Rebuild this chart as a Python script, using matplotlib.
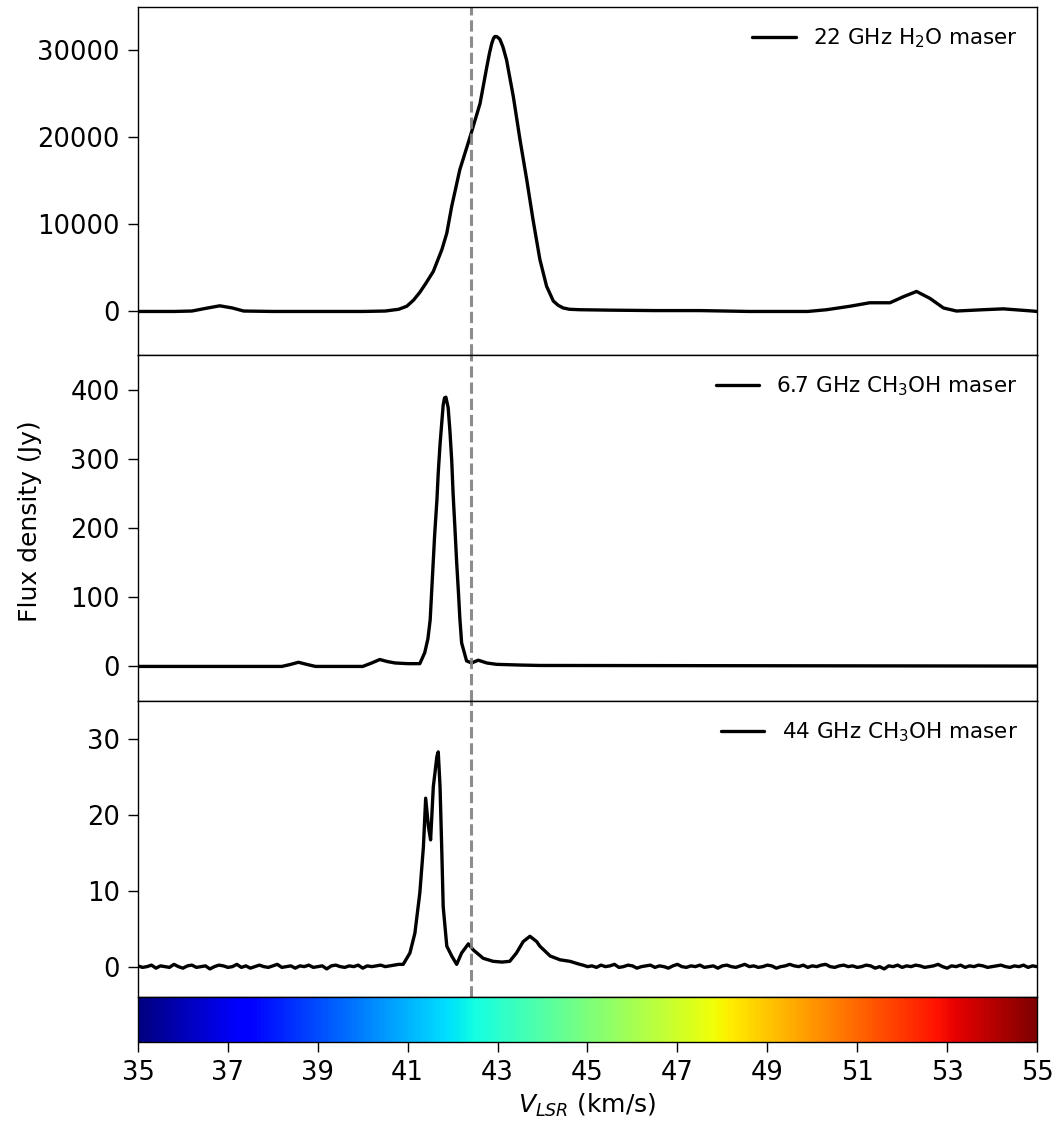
import numpy as np
import matplotlib
matplotlib.use("Agg")
import matplotlib.pyplot as plt
from matplotlib.colors import Normalize
from matplotlib.cm import ScalarMappable

# 22 GHz H2O maser (Jy)
v_h2o = [35.0, 35.8, 36.2, 36.5, 36.82, 37.1, 37.35, 38.0, 39.0, 40.0, 40.5, 40.8,
         40.98, 41.13, 41.27, 41.4, 41.57, 41.76, 41.87, 41.98, 42.16, 42.39, 42.61,
         42.76, 42.82, 42.87, 42.91, 42.94, 42.98, 43.05, 43.12, 43.2, 43.35, 43.5,
         43.65, 43.79, 43.94, 44.09, 44.24, 44.35, 44.46, 44.6, 44.83, 45.5, 46.5,
         47.5, 48.6, 49.9, 50.32, 50.84, 51.28, 51.73, 52.03, 52.32, 52.62, 52.92,
         53.21, 53.8, 54.25, 54.9, 55.0]
f_h2o = [0, 0, 50, 350, 650, 400, 50, 0, 0, 0, 50, 250,
         600, 1300, 2200, 3200, 4600, 7100, 9000, 12100, 16300, 20100, 23900,
         28100, 29700, 30800, 31400, 31600, 31600, 31300, 30400, 28900, 24700, 19700,
         15100, 10500, 6000, 2900, 1200, 700, 400, 250, 200, 150, 100,
         100, 0, 0, 200, 600, 1000, 1000, 1700, 2300, 1500, 400,
         50, 200, 300, 50, 0]

# 6.7 GHz CH3OH maser (Jy)
v_m67 = [35.0, 38.2, 38.4, 38.57, 38.75, 38.95, 40.0, 40.2, 40.38, 40.55, 40.72,
         41.0, 41.27, 41.38, 41.45, 41.5, 41.57, 41.6, 41.65, 41.68, 41.72, 41.79,
         41.82, 41.85, 41.9, 41.94, 41.98, 42.01, 42.05, 42.09, 42.13, 42.16, 42.2,
         42.31, 42.42, 42.57, 42.76, 42.98, 43.5, 43.94, 55.0]
f_m67 = [0, 0, 3, 6, 3, 0, 0, 5, 10, 7, 5,
         4, 4, 20, 40, 67, 153, 190, 240, 280, 321, 378,
         388, 389, 374, 340, 297, 250, 201, 150, 106, 70, 34,
         8, 5, 9, 5, 3, 2, 1.4, 0.5]

# 44 GHz CH3OH maser (Jy): noisy baselines on 0.1 km/s channels + line region
noise_left = [0.1, -0.1, 0.0, 0.2, -0.2, 0.1, 0.0, -0.1, 0.3, 0.0,
              -0.2, 0.1, 0.2, -0.1, 0.0, 0.1, -0.3, 0.0, 0.2, 0.1,
              -0.1, 0.0, 0.3, -0.1, 0.1, -0.2, 0.0, 0.2, 0.0, -0.1,
              0.1, 0.3, -0.1, 0.0, 0.1, -0.2, 0.1, 0.0, 0.2, -0.1,
              0.0, 0.1, -0.3, 0.1, 0.2, 0.0, -0.1, 0.1, 0.0, 0.2,
              -0.2, 0.1, 0.0, 0.1, 0.2, 0.0, 0.1, 0.2, 0.3]
v_line44 = [40.9, 41.05, 41.16, 41.27, 41.35, 41.4, 41.46, 41.51, 41.57, 41.65,
            41.68, 41.72, 41.76, 41.79, 41.87, 41.98, 42.09, 42.2, 42.35, 42.46,
            42.68, 42.9, 43.1, 43.27, 43.42, 43.57, 43.72, 43.87, 43.94, 44.17,
            44.39, 44.61, 44.83]
f_line44 = [0.3, 1.8, 4.4, 9.7, 15.8, 22.2, 18.5, 16.7, 23.7, 27.7,
            28.3, 23.7, 15.0, 7.9, 2.7, 1.4, 0.3, 1.8, 3.0, 2.2,
            1.1, 0.7, 0.6, 0.7, 1.8, 3.3, 4.0, 3.3, 2.7, 1.4,
            0.9, 0.7, 0.3]
noise_right = [0.2, 0.0, 0.1, -0.1, 0.2, 0.0, 0.1, 0.3, -0.1, 0.0,
               0.2, 0.1, -0.2, 0.0, 0.1, 0.2, -0.1, 0.1, 0.0, -0.2,
               0.1, 0.3, 0.0, -0.1, 0.1, 0.0, 0.2, -0.1, 0.0, 0.1,
               -0.2, 0.1, 0.2, 0.0, -0.1, 0.1, 0.3, 0.0, 0.1, -0.1,
               0.0, 0.2, 0.1, -0.2, 0.0, 0.1, 0.3, 0.1, 0.0, 0.2,
               -0.1, 0.1, 0.0, 0.2, 0.3, 0.0, -0.1, 0.1, 0.2, 0.0,
               0.1, -0.1, 0.0, 0.2, 0.1, -0.2, 0.0, -0.3, 0.1, 0.0,
               0.2, -0.1, 0.1, 0.0, 0.2, 0.1, -0.1, 0.0, 0.1, 0.3,
               0.0, -0.2, 0.1, 0.0, 0.2, -0.1, 0.1, 0.0, 0.2, 0.1,
               -0.1, 0.0, 0.1, 0.2, 0.0, -0.1, 0.1, 0.0, 0.2, -0.1,
               0.1, 0.0]

v_sys = 42.4
vel_ticks = list(range(35, 56, 2))
labels = ["22 GHz H$_2$O maser", "6.7 GHz CH$_3$OH maser", "44 GHz CH$_3$OH maser"]

v_left = 35.0 + 0.1 * np.arange(len(noise_left))
v_right = 44.9 + 0.1 * np.arange(len(noise_right))
v_44 = np.concatenate([v_left, v_line44, v_right])
f_44 = np.concatenate([noise_left, f_line44, noise_right])

plt.rcParams["font.family"] = "DejaVu Sans"
fig = plt.figure(figsize=(10.59, 11.24), dpi=100)
L, W = 0.1303, 0.8489
ax1 = fig.add_axes([L, 0.6842, W, 0.3096])
ax2 = fig.add_axes([L, 0.3763, W, 0.3079])
ax3 = fig.add_axes([L, 0.1130, W, 0.2633])
cax = fig.add_axes([L, 0.0730, W, 0.0400])

panels = [
    (ax1, v_h2o, f_h2o, (-5000, 35000), [0, 10000, 20000, 30000]),
    (ax2, v_m67, f_m67, (-50, 450), [0, 100, 200, 300, 400]),
    (ax3, v_44, f_44, (-4, 35), [0, 10, 20, 30]),
]
for (ax, v, f, ylim, yt), lab in zip(panels, labels):
    ax.plot(v, f, color="black", lw=2.4, label=lab,
            solid_joinstyle="round", solid_capstyle="round")
    ax.axvline(v_sys, color="gray", ls="--", lw=2.2, alpha=0.9)
    ax.set_xlim(35, 55)
    ax.set_ylim(*ylim)
    ax.set_yticks(yt)
    ax.tick_params(axis="x", bottom=False, labelbottom=False)
    ax.tick_params(axis="y", labelsize=18.5, length=7, width=1.0, pad=6)
    for sp in ax.spines.values():
        sp.set_linewidth(1.0)
    ax.legend(loc="upper right", frameon=False, fontsize=15.5)

fig.text(0.028, 0.536, "Flux density (Jy)", rotation=90, va="center",
         ha="center", fontsize=18)

sm = ScalarMappable(norm=Normalize(35, 55), cmap="jet")
cb = fig.colorbar(sm, cax=cax, orientation="horizontal", ticks=vel_ticks)
cb.outline.set_linewidth(1.0)
cax.tick_params(labelsize=18.5, length=7, width=1.0, pad=6)
cax.set_xlabel("$V_{LSR}$ (km/s)", fontsize=18, labelpad=4)

fig.savefig("out.png", dpi=100)
